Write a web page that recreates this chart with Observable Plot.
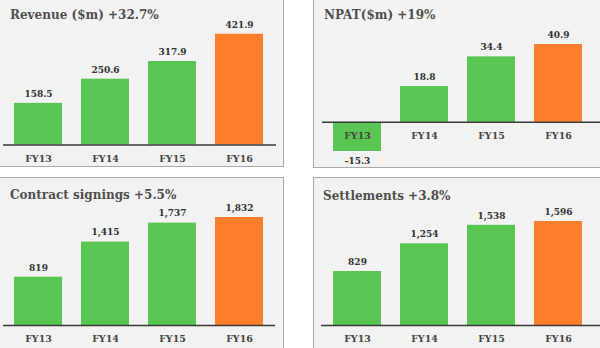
<!DOCTYPE html>
<html>
<head>
<meta charset="utf-8">
<script src="https://cdn.jsdelivr.net/npm/d3@7"></script>
<script src="https://cdn.jsdelivr.net/npm/@observablehq/plot@0.6"></script>
<style>
  html, body { margin: 0; padding: 0; background: #fff; }
  #page { position: relative; width: 600px; height: 348px; overflow: hidden; background: #fff; }
  .panel { position: absolute; box-sizing: border-box; background: #f2f2f2; border: 1px solid #a9a9a9; }
  .title { position: absolute; font-family: "DejaVu Serif", serif; font-weight: bold; font-size: 12px; line-height: 14px; color: #4f4f4f; white-space: nowrap; }
  .plot { position: absolute; left: 0; top: 0; }
</style>
</head>
<body>
<div id="page"></div>
<script>
const years = ["FY13", "FY14", "FY15", "FY16"];
const revenue = [158.5, 250.6, 317.9, 421.9];
const npat = [-15.3, 18.8, 34.4, 40.9];
const signings = [819, 1415, 1737, 1832];
const settlements = [829, 1254, 1538, 1596];
const titles = ["Revenue ($m) +32.7%", "NPAT($m) +19%", "Contract signings +5.5%", "Settlements +3.8%"];
const valueFormats = [d => d.toFixed(1), d => d.toFixed(1), d3.format(","), d3.format(",")];
const highlightYear = "FY16";

const green = "#59c553";
const orange = "#fd7f2e";

const page = document.getElementById("page");

// panel boxes and plot layout (page coordinates)
const layouts = [
  {box: [-10, -10, 294, 177], titlePos: [10, 7.5], xRange: [-7, 284], axis: [3, 276], yRange: [144.5, 33.7], yDomainMin: 0},
  {box: [313, -10, 300, 178], titlePos: [324, 8], xRange: [312, 603], axis: [322, 600], yRange: [151, 44], yDomainMin: null},
  {box: [-10, 177, 294, 200], titlePos: [10, 188], xRange: [-7, 284], axis: [3, 275], yRange: [325, 217], yDomainMin: 0},
  {box: [313, 177, 300, 200], titlePos: [323, 189], xRange: [312, 603], axis: [321, 600], yRange: [325, 221], yDomainMin: 0}
];
const series = [revenue, npat, signings, settlements];

layouts.forEach((L, i) => {
  const p = document.createElement("div");
  p.className = "panel";
  p.style.left = L.box[0] + "px";
  p.style.top = L.box[1] + "px";
  p.style.width = L.box[2] + "px";
  p.style.height = L.box[3] + "px";
  page.appendChild(p);

  const t = document.createElement("div");
  t.className = "title";
  t.textContent = titles[i];
  t.style.left = L.titlePos[0] + "px";
  t.style.top = L.titlePos[1] + "px";
  page.appendChild(t);

  const vals = series[i];
  const data = years.map((y, j) => ({year: y, value: vals[j], label: valueFormats[i](vals[j])}));
  const lo = L.yDomainMin === null ? d3.min(vals) : 0;
  const hi = d3.max(vals);

  const chart = Plot.plot({
    width: 600,
    height: 348,
    marginLeft: L.axis[0],
    marginRight: 600 - L.axis[1],
    marginTop: 0,
    marginBottom: 0,
    style: {background: "transparent", fontFamily: "DejaVu Serif, serif", overflow: "visible"},
    x: {domain: years, range: L.xRange, padding: 0.28, axis: null},
    y: {domain: [lo, hi], range: L.yRange, axis: null},
    marks: [
      Plot.barY(data, {x: "year", y: "value", fill: d => d.year === highlightYear ? orange : green}),
      Plot.ruleY([0], {stroke: "#3a3a3a", strokeWidth: 1.5}),
      Plot.text(data, {x: "year", y: "value", text: "label", dy: -9.5, fontSize: 9, fontWeight: "bold", fill: "#333", filter: d => d.value >= 0}),
      Plot.text(data, {x: "year", y: "value", text: "label", dy: 10, fontSize: 9, fontWeight: "bold", fill: "#333", filter: d => d.value < 0}),
      Plot.text(data, {x: "year", y: () => 0, text: "year", dy: 13.5, fontSize: 9.5, fontWeight: "bold", fill: "#454545"})
    ]
  });
  chart.classList.add("plot");
  chart.style.position = "absolute";
  chart.style.left = "0px";
  chart.style.top = "0px";
  page.appendChild(chart);
});
</script>
</body>
</html>
